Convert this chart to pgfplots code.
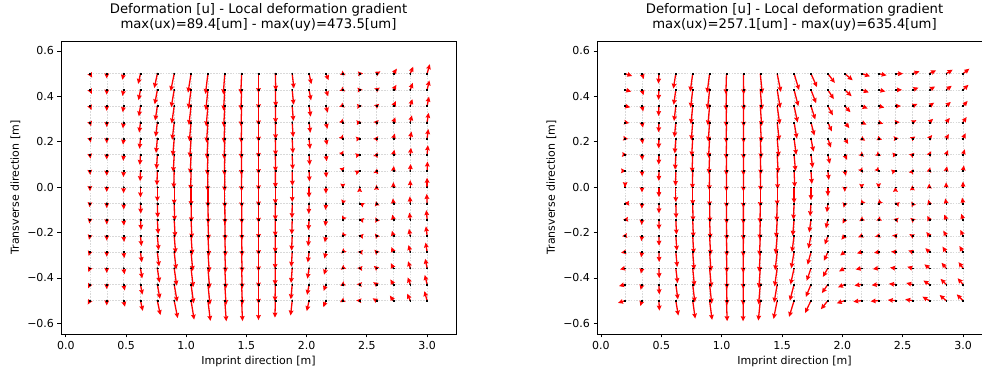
\documentclass[border=0pt]{standalone}
\usepackage{fontspec}
\setmainfont{DejaVu Sans}
\usepackage{pgfplots}
\pgfplotsset{compat=1.18}
\usepackage{pgfplotstable}
\usetikzlibrary{arrows.meta}

% x y ux[um] uy[um]  -- left panel
\pgfplotstableread[row sep=\\]{
x y ux uy\\
0.20 0.5 50 -90\\ 0.20 0.4286 43 -90\\ 0.20 0.3571 36 -90\\ 0.20 0.2857 29 -90\\ 0.20 0.2143 21 -90\\ 0.20 0.1429 14 -90\\ 0.20 0.0714 7 -90\\ 0.20 0 0 -90\\ 0.20 -0.0714 -7 -90\\ 0.20 -0.1429 -14 -90\\ 0.20 -0.2143 -21 -90\\ 0.20 -0.2857 -29 -90\\ 0.20 -0.3571 -36 -90\\ 0.20 -0.4286 -43 -90\\ 0.20 -0.5 -50 -90\\
0.34 0.5 0 -110\\ 0.34 0.4286 0 -110\\ 0.34 0.3571 0 -110\\ 0.34 0.2857 0 -110\\ 0.34 0.2143 0 -110\\ 0.34 0.1429 0 -110\\ 0.34 0.0714 0 -110\\ 0.34 0 0 -110\\ 0.34 -0.0714 0 -110\\ 0.34 -0.1429 0 -110\\ 0.34 -0.2143 0 -110\\ 0.34 -0.2857 0 -110\\ 0.34 -0.3571 0 -110\\ 0.34 -0.4286 0 -110\\ 0.34 -0.5 0 -110\\
0.48 0.5 -30 -140\\ 0.48 0.4286 -26 -140\\ 0.48 0.3571 -21 -140\\ 0.48 0.2857 -17 -140\\ 0.48 0.2143 -13 -140\\ 0.48 0.1429 -9 -140\\ 0.48 0.0714 -4 -140\\ 0.48 0 0 -140\\ 0.48 -0.0714 4 -140\\ 0.48 -0.1429 9 -140\\ 0.48 -0.2143 13 -140\\ 0.48 -0.2857 17 -140\\ 0.48 -0.3571 21 -140\\ 0.48 -0.4286 26 -140\\ 0.48 -0.5 30 -140\\
0.62 0.5 -53 -235\\ 0.62 0.4286 -45 -235\\ 0.62 0.3571 -38 -235\\ 0.62 0.2857 -30 -235\\ 0.62 0.2143 -23 -235\\ 0.62 0.1429 -15 -235\\ 0.62 0.0714 -8 -235\\ 0.62 0 0 -235\\ 0.62 -0.0714 8 -235\\ 0.62 -0.1429 15 -235\\ 0.62 -0.2143 23 -235\\ 0.62 -0.2857 30 -235\\ 0.62 -0.3571 38 -235\\ 0.62 -0.4286 45 -235\\ 0.62 -0.5 53 -235\\
0.76 0.5 -70 -330\\ 0.76 0.4286 -60 -330\\ 0.76 0.3571 -50 -330\\ 0.76 0.2857 -40 -330\\ 0.76 0.2143 -30 -330\\ 0.76 0.1429 -20 -330\\ 0.76 0.0714 -10 -330\\ 0.76 0 0 -330\\ 0.76 -0.0714 10 -330\\ 0.76 -0.1429 20 -330\\ 0.76 -0.2143 30 -330\\ 0.76 -0.2857 40 -330\\ 0.76 -0.3571 50 -330\\ 0.76 -0.4286 60 -330\\ 0.76 -0.5 70 -330\\
0.90 0.5 -80 -400\\ 0.90 0.4286 -69 -400\\ 0.90 0.3571 -57 -400\\ 0.90 0.2857 -46 -400\\ 0.90 0.2143 -34 -400\\ 0.90 0.1429 -23 -400\\ 0.90 0.0714 -11 -400\\ 0.90 0 0 -400\\ 0.90 -0.0714 11 -400\\ 0.90 -0.1429 23 -400\\ 0.90 -0.2143 34 -400\\ 0.90 -0.2857 46 -400\\ 0.90 -0.3571 57 -400\\ 0.90 -0.4286 69 -400\\ 0.90 -0.5 80 -400\\
1.04 0.5 -70 -435\\ 1.04 0.4286 -60 -435\\ 1.04 0.3571 -50 -435\\ 1.04 0.2857 -40 -435\\ 1.04 0.2143 -30 -435\\ 1.04 0.1429 -20 -435\\ 1.04 0.0714 -10 -435\\ 1.04 0 0 -435\\ 1.04 -0.0714 10 -435\\ 1.04 -0.1429 20 -435\\ 1.04 -0.2143 30 -435\\ 1.04 -0.2857 40 -435\\ 1.04 -0.3571 50 -435\\ 1.04 -0.4286 60 -435\\ 1.04 -0.5 70 -435\\
1.18 0.5 -57 -465\\ 1.18 0.4286 -49 -465\\ 1.18 0.3571 -41 -465\\ 1.18 0.2857 -33 -465\\ 1.18 0.2143 -24 -465\\ 1.18 0.1429 -16 -465\\ 1.18 0.0714 -8 -465\\ 1.18 0 0 -465\\ 1.18 -0.0714 8 -465\\ 1.18 -0.1429 16 -465\\ 1.18 -0.2143 24 -465\\ 1.18 -0.2857 33 -465\\ 1.18 -0.3571 41 -465\\ 1.18 -0.4286 49 -465\\ 1.18 -0.5 57 -465\\
1.32 0.5 -35 -473\\ 1.32 0.4286 -30 -473\\ 1.32 0.3571 -25 -473\\ 1.32 0.2857 -20 -473\\ 1.32 0.2143 -15 -473\\ 1.32 0.1429 -10 -473\\ 1.32 0.0714 -5 -473\\ 1.32 0 0 -473\\ 1.32 -0.0714 5 -473\\ 1.32 -0.1429 10 -473\\ 1.32 -0.2143 15 -473\\ 1.32 -0.2857 20 -473\\ 1.32 -0.3571 25 -473\\ 1.32 -0.4286 30 -473\\ 1.32 -0.5 35 -473\\
1.46 0.5 -20 -468\\ 1.46 0.4286 -17 -468\\ 1.46 0.3571 -14 -468\\ 1.46 0.2857 -11 -468\\ 1.46 0.2143 -9 -468\\ 1.46 0.1429 -6 -468\\ 1.46 0.0714 -3 -468\\ 1.46 0 0 -468\\ 1.46 -0.0714 3 -468\\ 1.46 -0.1429 6 -468\\ 1.46 -0.2143 9 -468\\ 1.46 -0.2857 11 -468\\ 1.46 -0.3571 14 -468\\ 1.46 -0.4286 17 -468\\ 1.46 -0.5 20 -468\\
1.60 0.5 0 -445\\ 1.60 0.4286 0 -445\\ 1.60 0.3571 0 -445\\ 1.60 0.2857 0 -445\\ 1.60 0.2143 0 -445\\ 1.60 0.1429 0 -445\\ 1.60 0.0714 0 -445\\ 1.60 0 0 -445\\ 1.60 -0.0714 0 -445\\ 1.60 -0.1429 0 -445\\ 1.60 -0.2143 0 -445\\ 1.60 -0.2857 0 -445\\ 1.60 -0.3571 0 -445\\ 1.60 -0.4286 0 -445\\ 1.60 -0.5 0 -445\\
1.74 0.5 10 -390\\ 1.74 0.4286 9 -390\\ 1.74 0.3571 7 -390\\ 1.74 0.2857 6 -390\\ 1.74 0.2143 4 -390\\ 1.74 0.1429 3 -390\\ 1.74 0.0714 1 -390\\ 1.74 0 0 -390\\ 1.74 -0.0714 -1 -390\\ 1.74 -0.1429 -3 -390\\ 1.74 -0.2143 -4 -390\\ 1.74 -0.2857 -6 -390\\ 1.74 -0.3571 -7 -390\\ 1.74 -0.4286 -9 -390\\ 1.74 -0.5 -10 -390\\
1.88 0.5 38 -340\\ 1.88 0.4286 33 -340\\ 1.88 0.3571 27 -340\\ 1.88 0.2857 22 -340\\ 1.88 0.2143 16 -340\\ 1.88 0.1429 11 -340\\ 1.88 0.0714 5 -340\\ 1.88 0 0 -340\\ 1.88 -0.0714 -5 -340\\ 1.88 -0.1429 -11 -340\\ 1.88 -0.2143 -16 -340\\ 1.88 -0.2857 -22 -340\\ 1.88 -0.3571 -27 -340\\ 1.88 -0.4286 -33 -340\\ 1.88 -0.5 -38 -340\\
2.02 0.5 53 -240\\ 2.02 0.4286 45 -240\\ 2.02 0.3571 38 -240\\ 2.02 0.2857 30 -240\\ 2.02 0.2143 23 -240\\ 2.02 0.1429 15 -240\\ 2.02 0.0714 8 -240\\ 2.02 0 0 -240\\ 2.02 -0.0714 -8 -240\\ 2.02 -0.1429 -15 -240\\ 2.02 -0.2143 -23 -240\\ 2.02 -0.2857 -30 -240\\ 2.02 -0.3571 -38 -240\\ 2.02 -0.4286 -45 -240\\ 2.02 -0.5 -53 -240\\
2.16 0.5 60 -150\\ 2.16 0.4286 51 -150\\ 2.16 0.3571 43 -150\\ 2.16 0.2857 34 -150\\ 2.16 0.2143 26 -150\\ 2.16 0.1429 17 -150\\ 2.16 0.0714 9 -150\\ 2.16 0 0 -150\\ 2.16 -0.0714 -9 -150\\ 2.16 -0.1429 -17 -150\\ 2.16 -0.2143 -26 -150\\ 2.16 -0.2857 -34 -150\\ 2.16 -0.3571 -43 -150\\ 2.16 -0.4286 -51 -150\\ 2.16 -0.5 -60 -150\\
2.30 0.5 65 -35\\ 2.30 0.4286 56 -35\\ 2.30 0.3571 46 -35\\ 2.30 0.2857 37 -35\\ 2.30 0.2143 28 -35\\ 2.30 0.1429 19 -35\\ 2.30 0.0714 9 -35\\ 2.30 0 0 -35\\ 2.30 -0.0714 -9 -35\\ 2.30 -0.1429 -19 -35\\ 2.30 -0.2143 -28 -35\\ 2.30 -0.2857 -37 -35\\ 2.30 -0.3571 -46 -35\\ 2.30 -0.4286 -56 -35\\ 2.30 -0.5 -65 -35\\
2.44 0.5 78 5\\ 2.44 0.4286 67 5\\ 2.44 0.3571 56 5\\ 2.44 0.2857 45 5\\ 2.44 0.2143 33 5\\ 2.44 0.1429 22 5\\ 2.44 0.0714 11 5\\ 2.44 0 0 5\\ 2.44 -0.0714 -11 5\\ 2.44 -0.1429 -22 5\\ 2.44 -0.2143 -33 5\\ 2.44 -0.2857 -45 5\\ 2.44 -0.3571 -56 5\\ 2.44 -0.4286 -67 5\\ 2.44 -0.5 -78 5\\
2.58 0.5 89 53\\ 2.58 0.4286 76 53\\ 2.58 0.3571 64 53\\ 2.58 0.2857 51 53\\ 2.58 0.2143 38 53\\ 2.58 0.1429 25 53\\ 2.58 0.0714 13 53\\ 2.58 0 0 53\\ 2.58 -0.0714 -13 53\\ 2.58 -0.1429 -25 53\\ 2.58 -0.2143 -38 53\\ 2.58 -0.2857 -51 53\\ 2.58 -0.3571 -64 53\\ 2.58 -0.4286 -76 53\\ 2.58 -0.5 -89 53\\
2.72 0.5 80 115\\ 2.72 0.4286 69 115\\ 2.72 0.3571 57 115\\ 2.72 0.2857 46 115\\ 2.72 0.2143 34 115\\ 2.72 0.1429 23 115\\ 2.72 0.0714 11 115\\ 2.72 0 0 115\\ 2.72 -0.0714 -11 115\\ 2.72 -0.1429 -23 115\\ 2.72 -0.2143 -34 115\\ 2.72 -0.2857 -46 115\\ 2.72 -0.3571 -57 115\\ 2.72 -0.4286 -69 115\\ 2.72 -0.5 -80 115\\
2.86 0.5 68 160\\ 2.86 0.4286 58 160\\ 2.86 0.3571 49 160\\ 2.86 0.2857 39 160\\ 2.86 0.2143 29 160\\ 2.86 0.1429 19 160\\ 2.86 0.0714 10 160\\ 2.86 0 0 160\\ 2.86 -0.0714 -10 160\\ 2.86 -0.1429 -19 160\\ 2.86 -0.2143 -29 160\\ 2.86 -0.2857 -39 160\\ 2.86 -0.3571 -49 160\\ 2.86 -0.4286 -58 160\\ 2.86 -0.5 -68 160\\
3.00 0.5 62 217\\ 3.00 0.4286 53 217\\ 3.00 0.3571 44 217\\ 3.00 0.2857 35 217\\ 3.00 0.2143 27 217\\ 3.00 0.1429 18 217\\ 3.00 0.0714 9 217\\ 3.00 0 0 217\\ 3.00 -0.0714 -9 217\\ 3.00 -0.1429 -18 217\\ 3.00 -0.2143 -27 217\\ 3.00 -0.2857 -35 217\\ 3.00 -0.3571 -44 217\\ 3.00 -0.4286 -53 217\\ 3.00 -0.5 -62 217\\
}\leftdata

% right panel
\pgfplotstableread[row sep=\\]{
x y ux uy\\
0.20 0.5 219 -71\\ 0.20 0.4286 188 -52\\ 0.20 0.3571 156 -36\\ 0.20 0.2857 125 -23\\ 0.20 0.2143 94 -13\\ 0.20 0.1429 63 -6\\ 0.20 0.0714 31 -1\\ 0.20 0 0 -1\\ 0.20 -0.0714 -31 -1\\ 0.20 -0.1429 -63 -6\\ 0.20 -0.2143 -94 -13\\ 0.20 -0.2857 -125 -23\\ 0.20 -0.3571 -156 -36\\ 0.20 -0.4286 -188 -52\\ 0.20 -0.5 -219 -71\\
0.34 0.5 51 -165\\ 0.34 0.4286 44 -165\\ 0.34 0.3571 36 -165\\ 0.34 0.2857 29 -165\\ 0.34 0.2143 22 -165\\ 0.34 0.1429 15 -165\\ 0.34 0.0714 7 -165\\ 0.34 0 0 -165\\ 0.34 -0.0714 -7 -165\\ 0.34 -0.1429 -15 -165\\ 0.34 -0.2143 -22 -165\\ 0.34 -0.2857 -29 -165\\ 0.34 -0.3571 -36 -165\\ 0.34 -0.4286 -44 -165\\ 0.34 -0.5 -51 -165\\
0.48 0.5 -15 -306\\ 0.48 0.4286 -13 -306\\ 0.48 0.3571 -11 -306\\ 0.48 0.2857 -9 -306\\ 0.48 0.2143 -6 -306\\ 0.48 0.1429 -4 -306\\ 0.48 0.0714 -2 -306\\ 0.48 0 0 -306\\ 0.48 -0.0714 2 -306\\ 0.48 -0.1429 4 -306\\ 0.48 -0.2143 6 -306\\ 0.48 -0.2857 9 -306\\ 0.48 -0.3571 11 -306\\ 0.48 -0.4286 13 -306\\ 0.48 -0.5 15 -306\\
0.62 0.5 -77 -459\\ 0.62 0.4286 -66 -459\\ 0.62 0.3571 -55 -459\\ 0.62 0.2857 -44 -459\\ 0.62 0.2143 -33 -459\\ 0.62 0.1429 -22 -459\\ 0.62 0.0714 -11 -459\\ 0.62 0 0 -459\\ 0.62 -0.0714 11 -459\\ 0.62 -0.1429 22 -459\\ 0.62 -0.2143 33 -459\\ 0.62 -0.2857 44 -459\\ 0.62 -0.3571 55 -459\\ 0.62 -0.4286 66 -459\\ 0.62 -0.5 77 -459\\
0.76 0.5 -77 -551\\ 0.76 0.4286 -66 -551\\ 0.76 0.3571 -55 -551\\ 0.76 0.2857 -44 -551\\ 0.76 0.2143 -33 -551\\ 0.76 0.1429 -22 -551\\ 0.76 0.0714 -11 -551\\ 0.76 0 0 -551\\ 0.76 -0.0714 11 -551\\ 0.76 -0.1429 22 -551\\ 0.76 -0.2143 33 -551\\ 0.76 -0.2857 44 -551\\ 0.76 -0.3571 55 -551\\ 0.76 -0.4286 66 -551\\ 0.76 -0.5 77 -551\\
0.90 0.5 -77 -592\\ 0.90 0.4286 -66 -592\\ 0.90 0.3571 -55 -592\\ 0.90 0.2857 -44 -592\\ 0.90 0.2143 -33 -592\\ 0.90 0.1429 -22 -592\\ 0.90 0.0714 -11 -592\\ 0.90 0 0 -592\\ 0.90 -0.0714 11 -592\\ 0.90 -0.1429 22 -592\\ 0.90 -0.2143 33 -592\\ 0.90 -0.2857 44 -592\\ 0.90 -0.3571 55 -592\\ 0.90 -0.4286 66 -592\\ 0.90 -0.5 77 -592\\
1.04 0.5 -20 -632\\ 1.04 0.4286 -17 -632\\ 1.04 0.3571 -14 -632\\ 1.04 0.2857 -11 -632\\ 1.04 0.2143 -9 -632\\ 1.04 0.1429 -6 -632\\ 1.04 0.0714 -3 -632\\ 1.04 0 0 -632\\ 1.04 -0.0714 3 -632\\ 1.04 -0.1429 6 -632\\ 1.04 -0.2143 9 -632\\ 1.04 -0.2857 11 -632\\ 1.04 -0.3571 14 -632\\ 1.04 -0.4286 17 -632\\ 1.04 -0.5 20 -632\\
1.18 0.5 10 -635\\ 1.18 0.4286 9 -635\\ 1.18 0.3571 7 -635\\ 1.18 0.2857 6 -635\\ 1.18 0.2143 4 -635\\ 1.18 0.1429 3 -635\\ 1.18 0.0714 1 -635\\ 1.18 0 0 -635\\ 1.18 -0.0714 -1 -635\\ 1.18 -0.1429 -3 -635\\ 1.18 -0.2143 -4 -635\\ 1.18 -0.2857 -6 -635\\ 1.18 -0.3571 -7 -635\\ 1.18 -0.4286 -9 -635\\ 1.18 -0.5 -10 -635\\
1.32 0.5 61 -612\\ 1.32 0.4286 52 -612\\ 1.32 0.3571 44 -612\\ 1.32 0.2857 35 -612\\ 1.32 0.2143 26 -612\\ 1.32 0.1429 17 -612\\ 1.32 0.0714 9 -612\\ 1.32 0 0 -612\\ 1.32 -0.0714 -9 -612\\ 1.32 -0.1429 -17 -612\\ 1.32 -0.2143 -26 -612\\ 1.32 -0.2857 -35 -612\\ 1.32 -0.3571 -44 -612\\ 1.32 -0.4286 -52 -612\\ 1.32 -0.5 -61 -612\\
1.46 0.5 112 -561\\ 1.46 0.4286 96 -561\\ 1.46 0.3571 80 -561\\ 1.46 0.2857 64 -561\\ 1.46 0.2143 48 -561\\ 1.46 0.1429 32 -561\\ 1.46 0.0714 16 -561\\ 1.46 0 0 -561\\ 1.46 -0.0714 -16 -561\\ 1.46 -0.1429 -32 -561\\ 1.46 -0.2143 -48 -561\\ 1.46 -0.2857 -64 -561\\ 1.46 -0.3571 -80 -561\\ 1.46 -0.4286 -96 -561\\ 1.46 -0.5 -112 -561\\
1.60 0.5 153 -500\\ 1.60 0.4286 131 -500\\ 1.60 0.3571 109 -500\\ 1.60 0.2857 87 -500\\ 1.60 0.2143 66 -500\\ 1.60 0.1429 44 -500\\ 1.60 0.0714 22 -500\\ 1.60 0 0 -500\\ 1.60 -0.0714 -22 -500\\ 1.60 -0.1429 -44 -500\\ 1.60 -0.2143 -66 -500\\ 1.60 -0.2857 -87 -500\\ 1.60 -0.3571 -109 -500\\ 1.60 -0.4286 -131 -500\\ 1.60 -0.5 -153 -500\\
1.74 0.5 184 -413\\ 1.74 0.4286 158 -411\\ 1.74 0.3571 131 -409\\ 1.74 0.2857 105 -407\\ 1.74 0.2143 79 -404\\ 1.74 0.1429 53 -402\\ 1.74 0.0714 26 -400\\ 1.74 0 0 -398\\ 1.74 -0.0714 -26 -396\\ 1.74 -0.1429 -53 -394\\ 1.74 -0.2143 -79 -392\\ 1.74 -0.2857 -105 -389\\ 1.74 -0.3571 -131 -387\\ 1.74 -0.4286 -158 -385\\ 1.74 -0.5 -184 -383\\
1.88 0.5 214 -285\\ 1.88 0.4286 183 -284\\ 1.88 0.3571 153 -282\\ 1.88 0.2857 122 -281\\ 1.88 0.2143 92 -279\\ 1.88 0.1429 61 -278\\ 1.88 0.0714 31 -276\\ 1.88 0 0 -275\\ 1.88 -0.0714 -31 -274\\ 1.88 -0.1429 -61 -272\\ 1.88 -0.2143 -92 -271\\ 1.88 -0.2857 -122 -269\\ 1.88 -0.3571 -153 -268\\ 1.88 -0.4286 -183 -266\\ 1.88 -0.5 -214 -265\\
2.02 0.5 245 -204\\ 2.02 0.4286 210 -195\\ 2.02 0.3571 175 -187\\ 2.02 0.2857 140 -178\\ 2.02 0.2143 105 -169\\ 2.02 0.1429 70 -160\\ 2.02 0.0714 35 -152\\ 2.02 0 0 -143\\ 2.02 -0.0714 -35 -134\\ 2.02 -0.1429 -70 -126\\ 2.02 -0.2143 -105 -117\\ 2.02 -0.2857 -140 -108\\ 2.02 -0.3571 -175 -99\\ 2.02 -0.4286 -210 -91\\ 2.02 -0.5 -245 -82\\
2.16 0.5 257 -82\\ 2.16 0.4286 220 -78\\ 2.16 0.3571 184 -75\\ 2.16 0.2857 147 -71\\ 2.16 0.2143 110 -67\\ 2.16 0.1429 73 -63\\ 2.16 0.0714 37 -60\\ 2.16 0 0 -56\\ 2.16 -0.0714 -37 -52\\ 2.16 -0.1429 -73 -49\\ 2.16 -0.2143 -110 -45\\ 2.16 -0.2857 -147 -41\\ 2.16 -0.3571 -184 -37\\ 2.16 -0.4286 -220 -34\\ 2.16 -0.5 -257 -30\\
2.30 0.5 245 -51\\ 2.30 0.4286 210 -49\\ 2.30 0.3571 175 -47\\ 2.30 0.2857 140 -45\\ 2.30 0.2143 105 -42\\ 2.30 0.1429 70 -40\\ 2.30 0.0714 35 -38\\ 2.30 0 0 -36\\ 2.30 -0.0714 -35 -34\\ 2.30 -0.1429 -70 -32\\ 2.30 -0.2143 -105 -30\\ 2.30 -0.2857 -140 -27\\ 2.30 -0.3571 -175 -25\\ 2.30 -0.4286 -210 -23\\ 2.30 -0.5 -245 -21\\
2.44 0.5 235 -1\\ 2.44 0.4286 201 1\\ 2.44 0.3571 168 3\\ 2.44 0.2857 134 4\\ 2.44 0.2143 101 6\\ 2.44 0.1429 67 7\\ 2.44 0.0714 34 9\\ 2.44 0 0 10\\ 2.44 -0.0714 -34 11\\ 2.44 -0.1429 -67 13\\ 2.44 -0.2143 -101 14\\ 2.44 -0.2857 -134 16\\ 2.44 -0.3571 -168 17\\ 2.44 -0.4286 -201 19\\ 2.44 -0.5 -235 20\\
2.58 0.5 219 71\\ 2.58 0.4286 188 69\\ 2.58 0.3571 156 67\\ 2.58 0.2857 125 65\\ 2.58 0.2143 94 62\\ 2.58 0.1429 63 60\\ 2.58 0.0714 31 58\\ 2.58 0 0 56\\ 2.58 -0.0714 -31 54\\ 2.58 -0.1429 -63 52\\ 2.58 -0.2143 -94 50\\ 2.58 -0.2857 -125 47\\ 2.58 -0.3571 -156 45\\ 2.58 -0.4286 -188 43\\ 2.58 -0.5 -219 41\\
2.72 0.5 209 102\\ 2.72 0.4286 179 103\\ 2.72 0.3571 149 105\\ 2.72 0.2857 119 106\\ 2.72 0.2143 90 108\\ 2.72 0.1429 60 109\\ 2.72 0.0714 30 111\\ 2.72 0 0 112\\ 2.72 -0.0714 -30 113\\ 2.72 -0.1429 -60 115\\ 2.72 -0.2143 -90 116\\ 2.72 -0.2857 -119 118\\ 2.72 -0.3571 -149 119\\ 2.72 -0.4286 -179 121\\ 2.72 -0.5 -209 122\\
2.86 0.5 199 122\\ 2.86 0.4286 171 126\\ 2.86 0.3571 142 129\\ 2.86 0.2857 114 133\\ 2.86 0.2143 85 137\\ 2.86 0.1429 57 141\\ 2.86 0.0714 28 144\\ 2.86 0 0 148\\ 2.86 -0.0714 -28 152\\ 2.86 -0.1429 -57 155\\ 2.86 -0.2143 -85 159\\ 2.86 -0.2857 -114 163\\ 2.86 -0.3571 -142 167\\ 2.86 -0.4286 -171 170\\ 2.86 -0.5 -199 174\\
3.00 0.5 194 153\\ 3.00 0.4286 166 156\\ 3.00 0.3571 139 159\\ 3.00 0.2857 111 162\\ 3.00 0.2143 83 164\\ 3.00 0.1429 55 167\\ 3.00 0.0714 28 170\\ 3.00 0 0 173\\ 3.00 -0.0714 -28 176\\ 3.00 -0.1429 -55 179\\ 3.00 -0.2143 -83 182\\ 3.00 -0.2857 -111 184\\ 3.00 -0.3571 -139 187\\ 3.00 -0.4286 -166 190\\ 3.00 -0.5 -194 193\\
}\rightdata

\tikzset{
  arrowstyle/.style={red, line width=1.3pt, -{Stealth[length=5pt,width=4.6pt,inset=0.6pt]}},
}
\pgfplotsset{
  meshline/.style={gray!30, line width=0.5pt, dash pattern=on 1.6pt off 1.2pt, forget plot},
  panel/.style={
    scale only axis, width=395pt, height=293pt,
    ymin=-0.647, ymax=0.644,
    xtick={0,0.5,1,1.5,2,2.5,3},
    xticklabels={0.0,0.5,1.0,1.5,2.0,2.5,3.0},
    ytick={-0.6,-0.4,-0.2,0,0.2,0.4,0.6},
    yticklabels={−0.6,−0.4,−0.2,0.0,0.2,0.4,0.6},
    tick align=outside, tick pos=left, major tick length=3.5pt,
    every tick/.style={black, line width=0.8pt},
    axis line style={line width=0.8pt},
    ticklabel style={font=\fontsize{11}{13}\selectfont},
    label style={font=\fontsize{11}{13}\selectfont},
    title style={font=\fontsize{13.2}{15}\selectfont, align=center},
    xlabel={Imprint direction [m]},
    ylabel={Transverse direction [m]},
  },
}

\newcommand{\drawmesh}{%
  \pgfplotsinvokeforeach{0.5,0.4286,0.3571,0.2857,0.2143,0.1429,0.0714,0,-0.0714,-0.1429,-0.2143,-0.2857,-0.3571,-0.4286,-0.5}{%
    \addplot[meshline] coordinates {(0.2,##1) (3.0,##1)};}%
  \pgfplotsinvokeforeach{0.2,0.34,0.48,0.62,0.76,0.9,1.04,1.18,1.32,1.46,1.6,1.74,1.88,2.02,2.16,2.3,2.44,2.58,2.72,2.86,3.0}{%
    \addplot[meshline] coordinates {(##1,-0.5) (##1,0.5)};}%
}

\begin{document}
\begin{tikzpicture}
\useasboundingbox (0,0) rectangle (982pt,371pt);
\begin{axis}[panel, at={(61pt,37pt)}, anchor=south west,
  xmin=-0.04, xmax=3.24,
  title={Deformation [u] - Local deformation gradient\\max(ux)=89.4[um] - max(uy)=473.5[um]}]
\drawmesh
\addplot[only marks, mark=*, mark size=0.6pt, black] table[x=x,y=y] {\leftdata};
\addplot[arrowstyle, quiver={u=\thisrow{ux}*0.000363, v=\thisrow{uy}*0.0001925, every arrow/.append style={arrowstyle}}] table[x=x,y=y] {\leftdata};
\addplot[only marks, mark=square*, mark size=0.45pt, black] table[x=x,y=y] {\leftdata};
\end{axis}
\begin{axis}[panel, at={(597pt,37pt)}, anchor=south west,
  xmin=-0.033, xmax=3.24,
  title={Deformation [u] - Local deformation gradient\\max(ux)=257.1[um] - max(uy)=635.4[um]}]
\drawmesh
\addplot[arrowstyle, quiver={u=\thisrow{ux}*0.000270, v=\thisrow{uy}*0.0001436, every arrow/.append style={arrowstyle}}] table[x=x,y=y] {\rightdata};
\addplot[only marks, mark=square*, mark size=0.45pt, black] table[x=x,y=y] {\rightdata};
\end{axis}
\end{tikzpicture}
\end{document}
